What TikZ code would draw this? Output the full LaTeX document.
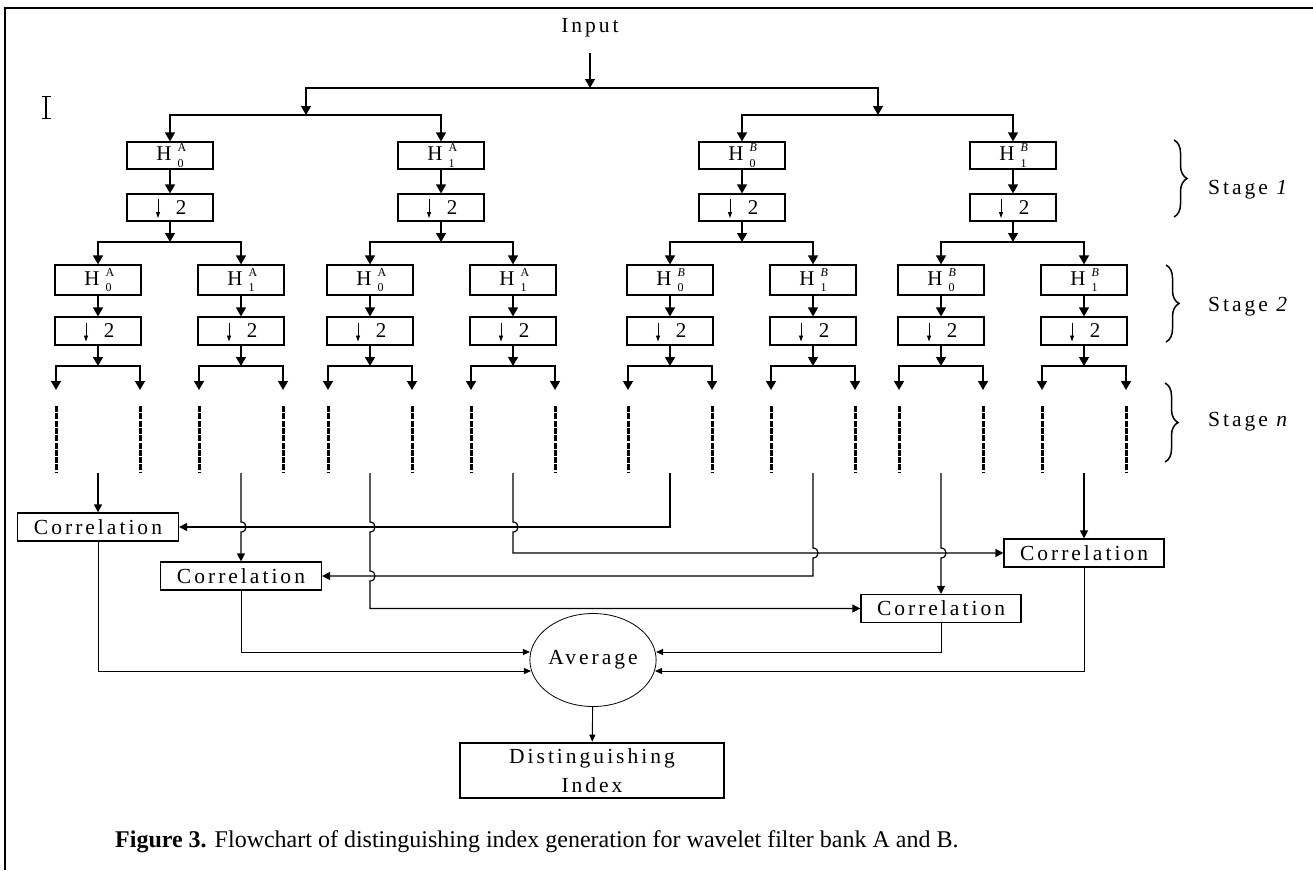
\documentclass[tikz,border=0pt]{standalone}
\usepackage{fontspec}
\setmainfont{Liberation Serif}
\newfontfamily\spfont[LetterSpace=14]{Liberation Serif}
\usetikzlibrary{arrows.meta,shapes.geometric,decorations.pathreplacing,calc}
\newcommand{\Hsym}[2]{H\kern6pt\makebox[0pt][l]{\raisebox{9pt}{\fontsize{12}{12}\selectfont #2}}\raisebox{-6.5pt}{\fontsize{12}{12}\selectfont #1}}
\begin{document}
\begin{tikzpicture}[x=1pt,y=-1pt,
  ln/.style={line width=1.4pt},
  arr/.style={line width=1.4pt,-{Triangle[width=10pt,length=9pt]}},
  arrm/.style={line width=1.2pt,-{Triangle[width=8pt,length=8pt]}},
  arrs/.style={line width=0.9pt,-{Triangle[width=6pt,length=7pt]}},
  thinarr/.style={line width=0.8pt,-{Triangle[width=4pt,length=6pt]}},
  fbox/.style={draw,line width=1.2pt,minimum width=86pt,inner sep=0pt,font=\fontsize{21}{21}\selectfont},
  cbox/.style={draw,line width=1.2pt,minimum width=161pt,minimum height=28pt,inner sep=0pt,font=\spfont\fontsize{21.5}{21.5}\selectfont},
  lbl/.style={font=\spfont\fontsize{21.5}{21.5}\selectfont,inner sep=0pt},
  dots/.style={line width=3pt,dash pattern=on 6pt off 1.3pt},
  brc/.style={decorate,decoration={brace,amplitude=13pt},line width=1.5pt},
  hop/.style 2 args={insert path={-- (#1,#2-5) .. controls (#1+6.7,#2-5) and (#1+6.7,#2+5) .. (#1,#2+5)}}
]
\useasboundingbox (0,0) rectangle (1313,870);
% frame
\draw[line width=2pt] (5,870) -- (5,8) -- (1313,8);
% cursor
\draw[line width=1.1pt] (46,96.5) -- (46,118.5) (41.5,96.5) -- (50.5,96.5) (41.5,118.5) -- (50.5,118.5);

% input
\node[lbl,anchor=base] (inp) at (590,32.7) {Input};
\coordinate (s0top) at (590,53);
\coordinate (s0) at (590,88);
\coordinate (sA) at (306,115);
\coordinate (sB) at (878,115);
\draw[arr] (s0top) -- (s0);
\draw[arr] (s0) -| (sA);
\draw[arr] (s0) -| (sB);

% stage 1
\foreach \x/\s/\b [count=\i] in {170/0/A,441/1/A,742/0/\textit{B},1013/1/\textit{B}}{
  \node[fbox,minimum height=27pt] (h1-\i) at (\x,155.5) {\Hsym{\s}{\b}};
  \node[fbox,minimum height=27pt] (d1-\i) at (\x,207.5) {\hspace*{22pt}2};
  \draw[thinarr] ($(d1-\i.center)+(-12,-8.5)$) -- ($(d1-\i.center)+(-12,10.5)$);
  \coordinate (t1-\i) at (\x,242);
  \draw[arr] (h1-\i) -- (d1-\i);
  \draw[arr] (d1-\i) -- (t1-\i);
}
\draw[arr] (sA) -| (h1-1.north);
\draw[arr] (sA) -| (h1-2.north);
\draw[arr] (sB) -| (h1-3.north);
\draw[arr] (sB) -| (h1-4.north);

% stage 2
\foreach \x/\s/\b [count=\i] in {98/0/A,241/1/A,370/0/A,513/1/A,670/0/\textit{B},813/1/\textit{B},941/0/\textit{B},1084/1/\textit{B}}{
  \node[fbox,minimum height=30pt] (h2-\i) at (\x,280) {\Hsym{\s}{\b}};
  \node[fbox,minimum height=28pt] (d2-\i) at (\x,331) {\hspace*{22pt}2};
  \draw[thinarr] ($(d2-\i.center)+(-12,-8.5)$) -- ($(d2-\i.center)+(-12,10.5)$);
  \draw[arr] (h2-\i) -- (d2-\i);
  \coordinate (u-\i) at (\x,366);
  \coordinate (ul-\i) at (\x-42,390);
  \coordinate (ur-\i) at (\x+42,390);
  \draw[arr] (d2-\i) -- (u-\i);
  \draw[arr] (u-\i) -| (ul-\i);
  \draw[arr] (u-\i) -| (ur-\i);
  \draw[dots] (\x-42,406) -- (\x-42,472);
  \draw[dots] (\x+42,406) -- (\x+42,472);
  \coordinate (v-\i) at (\x,473);
}
\draw[arr] (t1-1) -| (h2-1.north);
\draw[arr] (t1-1) -| (h2-2.north);
\draw[arr] (t1-2) -| (h2-3.north);
\draw[arr] (t1-2) -| (h2-4.north);
\draw[arr] (t1-3) -| (h2-5.north);
\draw[arr] (t1-3) -| (h2-6.north);
\draw[arr] (t1-4) -| (h2-7.north);
\draw[arr] (t1-4) -| (h2-8.north);

% braces and stage labels
\draw[brc] (1174,140) -- (1174,217);
\draw[brc] (1166,265) -- (1166,342);
\draw[brc] (1165,383) -- (1165,462);
\node[lbl,anchor=base west] (st1) at (1208,194) {Stage \textit{1}};
\node[lbl,anchor=base west] (st2) at (1208,311) {Stage \textit{2}};
\node[lbl,anchor=base west] (stn) at (1208,426) {Stage \textit{n}};

% correlations
\node[cbox] (c1) at (98,527) {Correlation};
\node[cbox] (c2) at (241,576) {Correlation};
\node[cbox,minimum width=160pt] (c3) at (941,608.5) {Correlation};
\node[cbox,minimum width=160pt] (c4) at (1084,553) {Correlation};

\draw[arrm] (v-1) -- (c1.north);
\draw[arrm] (v-2) [hop={241}{527}] -- (c2.north);
\draw[arrm] (v-3) [hop={370}{527}] [hop={370}{576}] |- (c3.west);
\draw[arrm] (v-4) [hop={513}{527}] |- (c4.west);
\draw[arrm] (v-5) |- (c1.east);
\draw[arrm] (v-6) [hop={813}{553}] |- (c2.east);
\draw[arrm] (v-7) [hop={941}{553}] -- (c3.north);
\draw[arrm] (v-8) -- (c4.north);

% average
\node[draw,ellipse,line width=0.8pt,minimum width=120pt,minimum height=93pt,inner sep=0pt,font=\spfont\fontsize{21.5}{21.5}\selectfont] (avg) at (593,660) {Average};
\node[draw,line width=2.6pt,minimum width=264pt,minimum height=55pt,inner sep=0pt,align=center,font=\spfont\fontsize{21.5}{29}\selectfont] (di) at (592,770.5) {Distinguishing\\Index};

\draw[arrs] (c1.south) |- ($(avg.west)+(1.5,11)$);
\draw[arrs] (c2.south) |- ($(avg.west)+(0.5,-8)$);
\draw[arrs] (c3.south) |- ($(avg.east)+(-0.5,-8)$);
\draw[arrs] (c4.south) |- ($(avg.east)+(-1.5,11)$);
\draw[arrs] (avg) -- (di);

% caption
\node[anchor=base west,inner sep=0pt,font=\fontsize{24}{24}\selectfont] (cap) at (115,847) {\textbf{Figure 3.} Flowchart of distinguishing index generation for wavelet filter bank A and B.};
\end{tikzpicture}
\end{document}
